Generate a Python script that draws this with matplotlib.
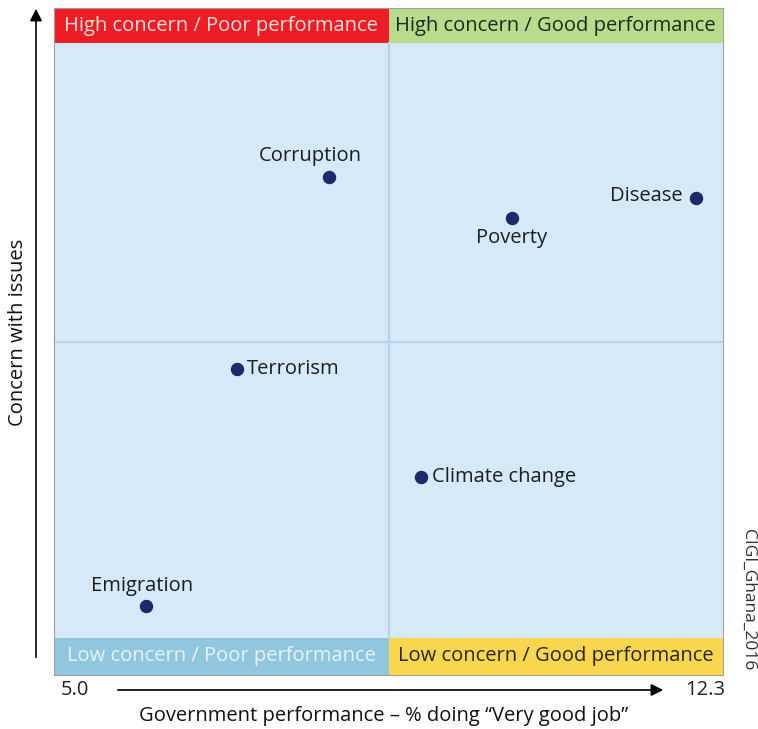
import matplotlib.pyplot as plt
from matplotlib.patches import FancyArrowPatch

plt.rcParams['font.family'] = ['Open Sans', 'DejaVu Sans']

# dados
issues = ['Corruption', 'Disease', 'Poverty', 'Terrorism', 'Climate change', 'Emigration']
performance = [8.0, 12.0, 10.0, 7.0, 9.0, 6.0]
concern = [74.7, 71.5, 68.5, 45.9, 29.7, 10.3]

# posição dos rótulos (offset em pixels, alinhamento)
label_pos = {
    'Corruption': (-19, 21, 'center'),
    'Disease': (-13, 2, 'right'),
    'Poverty': (-1, -20, 'center'),
    'Terrorism': (10, 0, 'left'),
    'Climate change': (11, 0, 'left'),
    'Emigration': (-4, 20, 'center'),
}

x_min, x_max = 5.0, 12.3
x_mid = (x_min + x_max) / 2
y_mid = 50

fig = plt.figure(figsize=(7.58, 7.29), dpi=100)
ax = fig.add_axes([54/758, 1 - 675/729, 669/758, 667/729])
ax.set_xlim(x_min, x_max)
ax.set_ylim(0, 100)
ax.set_facecolor('#d6e9f9')

# faixas dos quadrantes
top_band = 100 - 35/667*100
bot_band = 37/667*100
ax.fill_between([x_min, x_mid], top_band, 100, color='#ee1c25', lw=0)
ax.fill_between([x_mid, x_max], top_band, 100, color='#b8dc8c', lw=0)
ax.fill_between([x_min, x_mid], 0, bot_band, color='#90c7df', lw=0)
ax.fill_between([x_mid, x_max], 0, bot_band, color='#f8d64e', lw=0)

ax.axvline(x_mid, ymin=bot_band/100, ymax=top_band/100, color='#b3d3ef', lw=1.6, zorder=1)
ax.axhline(y_mid, color='#b3d3ef', lw=1.6, zorder=1)

fs = 14.5
ax.text((x_min + x_mid)/2, (top_band + 100)/2, 'High concern / Poor performance',
        ha='center', va='center', color='#fbe3dc', fontsize=fs)
ax.text((x_mid + x_max)/2, (top_band + 100)/2, 'High concern / Good performance',
        ha='center', va='center', color='#1d2a1a', fontsize=fs)
ax.text((x_min + x_mid)/2, bot_band/2, 'Low concern / Poor performance',
        ha='center', va='center', color='#e8f3f8', fontsize=fs)
ax.text((x_mid + x_max)/2, bot_band/2, 'Low concern / Good performance',
        ha='center', va='center', color='#2a2410', fontsize=fs)

ax.scatter(performance, concern, s=75, color='#1c2a6b', zorder=3)
for name, px, py in zip(issues, performance, concern):
    dx, dy, ha = label_pos[name]
    ax.annotate(name, (px, py), xytext=(dx*0.72, dy*0.72), textcoords='offset points',
                ha=ha, va='center', fontsize=fs, color='#1a1d22')

ax.set_xticks([])
ax.set_yticks([])
for s in ax.spines.values():
    s.set_color('#a0a0a0')
    s.set_linewidth(0.8)

# setas dos eixos
fig.add_artist(FancyArrowPatch(
    (36/758, 1 - 660/729), (36/758, 1 - 6/729), transform=fig.transFigure,
    arrowstyle='-|>', mutation_scale=18, color='black', lw=1.2))
fig.add_artist(FancyArrowPatch(
    (115/758, 1 - 690/729), (666/758, 1 - 690/729), transform=fig.transFigure,
    arrowstyle='-|>', mutation_scale=18, color='black', lw=1.2))

fig.text(75/758, 1 - 690/729, '5.0', ha='center', va='center', fontsize=fs, color='#222222')
fig.text(705/758, 1 - 690/729, '12.3', ha='center', va='center', fontsize=fs, color='#222222')
fig.text(384/758, 1 - 716/729, 'Government performance \u2013 % doing \u201cVery good job\u201d',
         ha='center', va='center', fontsize=fs, color='#111111')
fig.text(18/758, 1 - 332/729, 'Concern with issues', rotation=90,
         ha='center', va='center', fontsize=fs, color='#111111')
fig.text(748/758, 1 - 600/729, 'CIGI_Ghana_2016', rotation=-90,
         ha='center', va='center', fontsize=12.5, color='#333333')

fig.savefig('out.png', dpi=100)
